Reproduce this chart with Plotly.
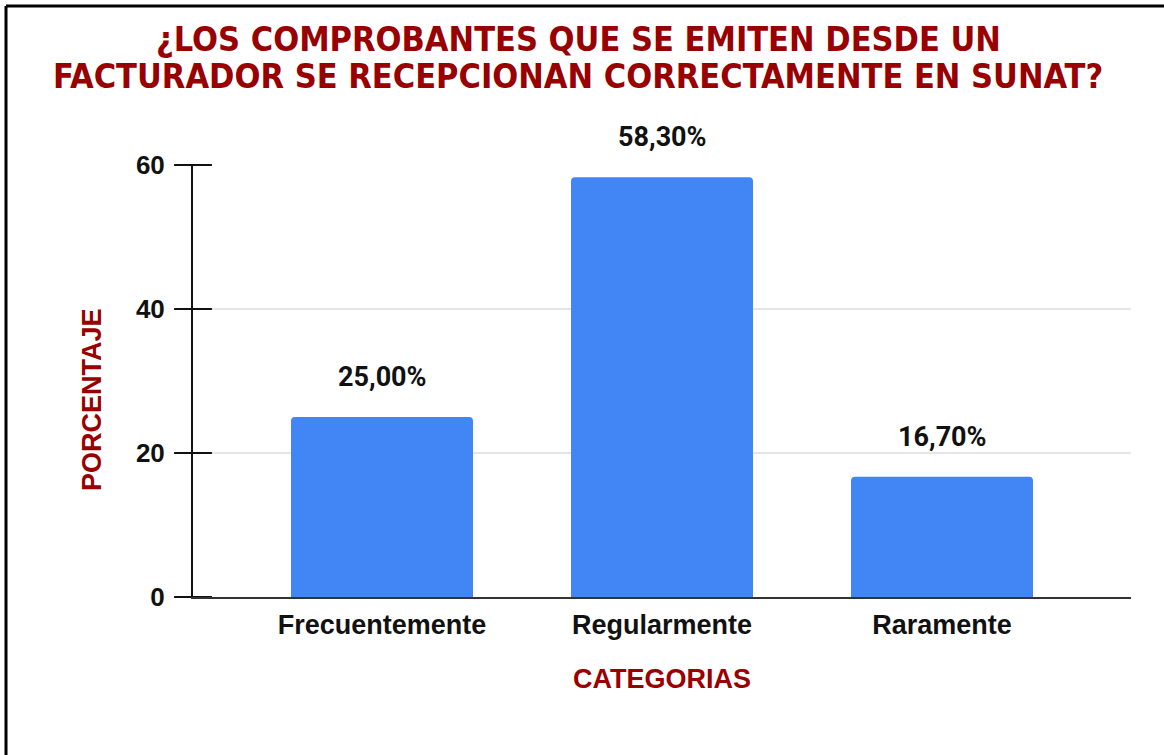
import plotly.graph_objects as go

categories = ["Frecuentemente", "Regularmente", "Raramente"]
values = [25.0, 58.3, 16.7]
value_labels = ["25,00%", "58,30%", "16,70%"]
y_ticks = [0, 20, 40, 60]
y_tick_labels = ["0", "20", "40", "60"]

title_line1 = "¿LOS COMPROBANTES QUE SE EMITEN DESDE UN"
title_line2 = "FACTURADOR SE RECEPCIONAN CORRECTAMENTE EN SUNAT?"
DARK_RED = "#990000"
W, H = 1164, 755
ML, MR, MT, MB = 193, 33, 165, 158

pw = W - ML - MR
ph = H - MT - MB


def px_x(p):
    return (p - ML) / pw


def px_y(p):
    return (H - MB - p) / ph


TITLE_FONT = dict(family="DejaVu Sans Condensed, Liberation Sans Narrow, sans-serif",
                  size=34, color=DARK_RED, weight="bold")
TXT = "Arial, Liberation Sans, sans-serif"

fig = go.Figure()
fig.add_trace(go.Bar(
    x=categories, y=values,
    marker=dict(color="#4285F4", cornerradius=4, line=dict(width=0)),
    width=0.65, hoverinfo="skip",
))

# tick marks crossing the y axis line (drawn at each y tick value)
fig.add_trace(go.Scatter(
    x=[0] * len(y_ticks), y=y_ticks, xaxis="x2", yaxis="y",
    mode="markers", cliponaxis=False, hoverinfo="skip", showlegend=False,
    marker=dict(symbol="line-ew", size=27, color="#111111",
                line=dict(width=2, color="#111111")),
))

annotations = []
for c, v, t in zip(categories, values, value_labels):
    annotations.append(dict(
        x=c, y=v, xref="x", yref="y", text=t, showarrow=False,
        yshift=40, yanchor="middle",
        font=dict(family="Roboto, Arial, sans-serif", size=27, color="#111111", weight="bold"),
    ))
annotations.append(dict(x=px_x(578), y=px_y(39), xref="paper", yref="paper",
                        text=title_line1, showarrow=False, xanchor="center", yanchor="middle",
                        font=TITLE_FONT))
annotations.append(dict(x=px_x(578), y=px_y(76), xref="paper", yref="paper",
                        text=title_line2, showarrow=False, xanchor="center", yanchor="middle",
                        font=TITLE_FONT))
annotations.append(dict(x=px_x(92), y=px_y(400), xref="paper", yref="paper",
                        text="PORCENTAJE", showarrow=False, textangle=-90,
                        xanchor="center", yanchor="middle",
                        font=dict(family=TXT, size=27, color=DARK_RED, weight="bold")))

bx = px_x(6)
by = px_y(6)

fig.update_layout(
    width=W, height=H, autosize=False,
    margin=dict(l=ML, r=MR, t=MT, b=MB),
    paper_bgcolor="white", plot_bgcolor="white",
    showlegend=False,
    xaxis=dict(
        range=[-0.675, 2.675],
        showgrid=False, zeroline=False,
        showline=True, linecolor="#333333", linewidth=2,
        ticks="", ticklabelstandoff=3,
        tickfont=dict(family=TXT, size=27, color="#111111", weight="bold"),
        title=dict(text="CATEGORIAS", standoff=30,
                   font=dict(family=TXT, size=27, color=DARK_RED, weight="bold")),
    ),
    xaxis2=dict(
        overlaying="x", anchor="y", range=[0, 1], visible=False, fixedrange=True,
    ),
    yaxis=dict(
        range=[0, 60],
        tickvals=y_ticks, ticktext=y_tick_labels,
        showgrid=True, gridcolor="#e6e6e6", gridwidth=2,
        zeroline=False,
        showline=True, linecolor="#111111", linewidth=2,
        ticks="outside", ticklen=13, tickwidth=0, tickcolor="rgba(0,0,0,0)",
        ticklabelstandoff=8,
        tickfont=dict(family=TXT, size=26, color="#111111", weight="bold"),
    ),
    annotations=annotations,
    shapes=[
        dict(type="line", xref="paper", yref="paper", x0=bx, x1=2.0, y0=by, y1=by,
             line=dict(color="black", width=3)),
        dict(type="line", xref="paper", yref="paper", x0=bx, x1=bx, y0=-1.0, y1=by,
             line=dict(color="black", width=3)),
    ],
)

fig.write_html("out.html", config={"displayModeBar": False},
               post_script="document.body.style.margin='0';")
